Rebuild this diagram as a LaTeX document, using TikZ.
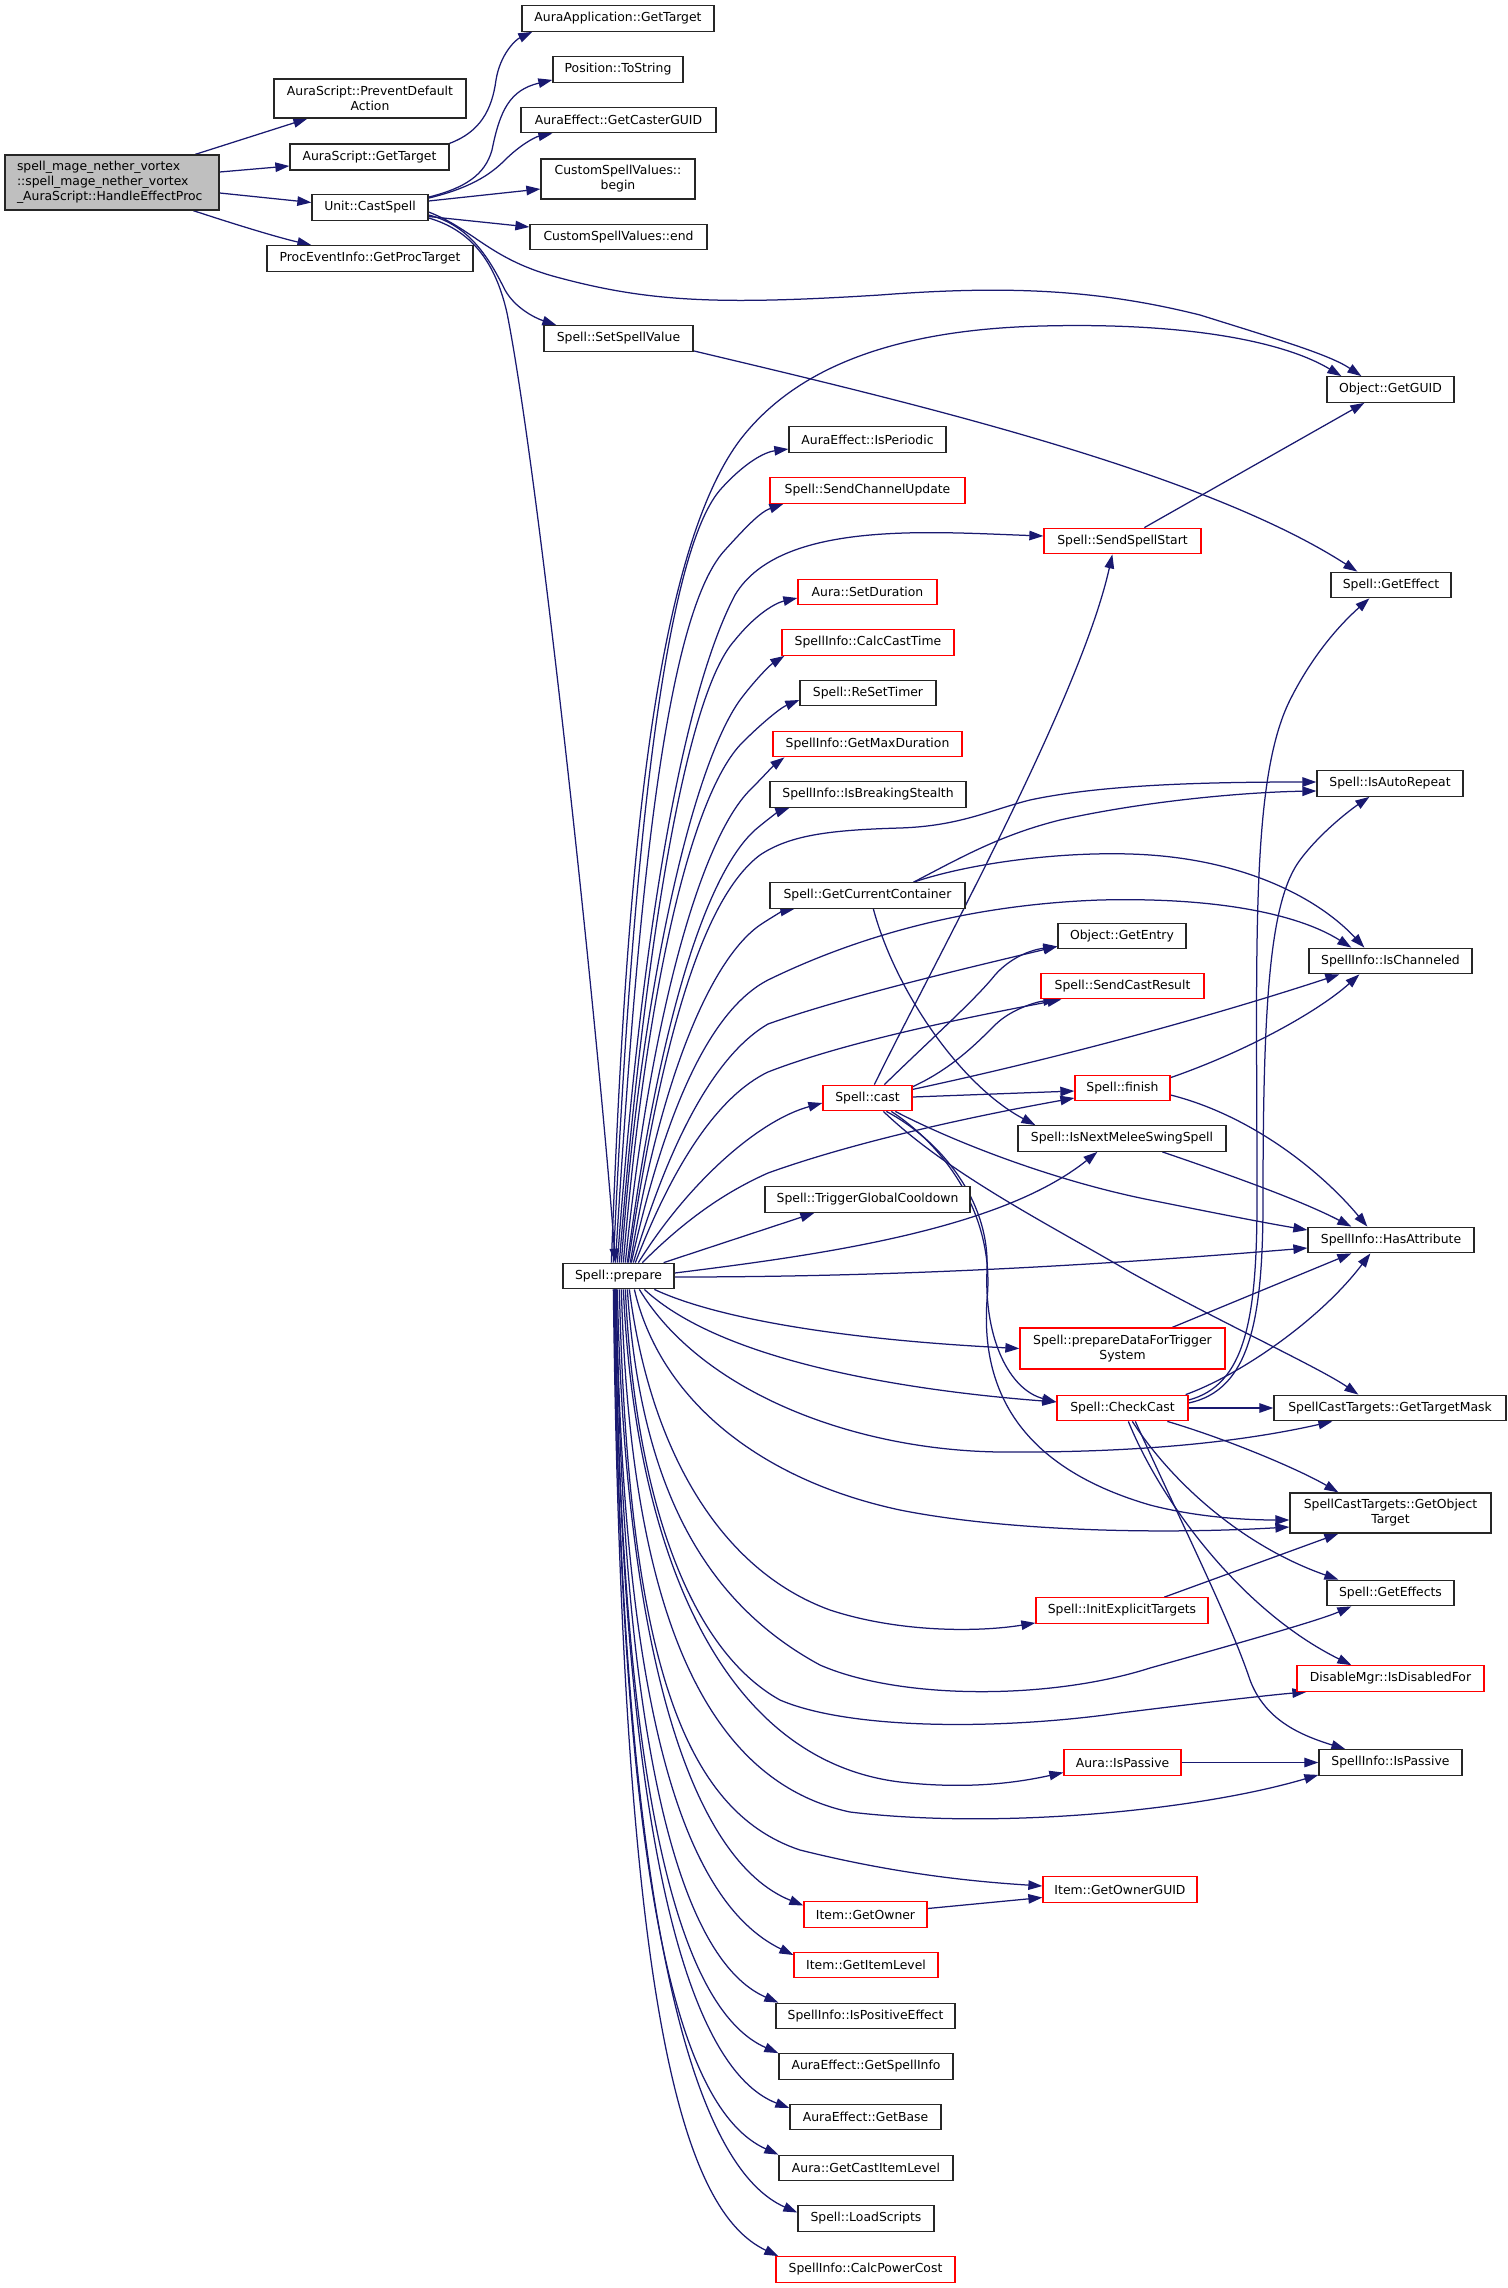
\documentclass[tikz,border=0pt]{standalone}
\usepackage{fontspec}
\setmainfont{DejaVu Sans}
\usetikzlibrary{arrows.meta,calc}
\definecolor{edgec}{HTML}{191970}
\definecolor{rootfill}{HTML}{BFBFBF}
\pgfdeclarelayer{back}
\pgfdeclarelayer{bg}
\pgfsetlayers{back,bg,main}
\begin{document}
\begin{tikzpicture}[x=1pt,y=-1pt,
  nb/.style={draw=black!85, line width=1.3pt, fill=white, inner sep=0pt, minimum height=25.5pt, font=\fontsize{12.4}{15}\selectfont, align=center},
  nr/.style={nb, draw=red},
  ed/.style={draw=edgec, line width=1.25pt, -{Triangle[length=14pt,width=9.5pt]}}]
\begin{pgfonlayer}{back}
\fill[white] (0,0) rectangle (1507,2288);
\end{pgfonlayer}
\useasboundingbox (0,0) rectangle (1507,2288);
% nodes
\node[nb, fill=rootfill, minimum width=214pt, minimum height=55pt, text width=190pt, align=left] (root) at (112,182.5) {spell\_mage\_nether\_vortex\\::spell\_mage\_nether\_vortex\\\_AuraScript::HandleEffectProc};
\node[nb, minimum width=192pt, minimum height=39pt] (prev) at (370,98.5) {AuraScript::PreventDefault\\Action};
\node[nb, minimum width=159pt, minimum height=26pt] (gt) at (369.5,157) {AuraScript::GetTarget};
\node[nb, minimum width=116pt] (cs) at (370,207.5) {Unit::CastSpell};
\node[nb, minimum width=206pt] (proc) at (370,258.5) {ProcEventInfo::GetProcTarget};
\node[nb, minimum width=192pt] (aapp) at (618,18.5) {AuraApplication::GetTarget};
\node[nb, minimum width=130pt] (tostr) at (618,69.5) {Position::ToString};
\node[nb, minimum width=195pt] (cguid) at (618.5,120) {AuraEffect::GetCasterGUID};
\node[nb, minimum width=154pt, minimum height=40pt] (cbeg) at (618,179) {CustomSpellValues::\\begin};
\node[nb, minimum width=177pt] (cend) at (618.5,237) {CustomSpellValues::end};
\node[nb, minimum width=149pt] (ssv) at (618.5,338.5) {Spell::SetSpellValue};
\node[nb, minimum width=127pt] (guid) at (1390.5,389.5) {Object::GetGUID};
\node[nb, minimum width=157pt] (iper) at (867.5,439.5) {AuraEffect::IsPeriodic};
\node[nr, minimum width=195pt] (scu) at (867.5,490.5) {Spell::SendChannelUpdate};
\node[nr, minimum width=157pt] (sss) at (1122.5,541) {Spell::SendSpellStart};
\node[nb, minimum width=120pt] (geff) at (1391,585) {Spell::GetEffect};
\node[nr, minimum width=139pt] (sdur) at (867.5,592) {Aura::SetDuration};
\node[nr, minimum width=172pt] (cct) at (868,642.5) {SpellInfo::CalcCastTime};
\node[nb, minimum width=136pt] (rst) at (868,693) {Spell::ReSetTimer};
\node[nr, minimum width=189pt] (gmd) at (867.5,744) {SpellInfo::GetMaxDuration};
\node[nb, minimum width=196pt] (ibs) at (868,794.5) {SpellInfo::IsBreakingStealth};
\node[nb, minimum width=146pt] (iar) at (1390,783.5) {Spell::IsAutoRepeat};
\node[nb, minimum width=195pt] (gcc) at (867.5,895.5) {Spell::GetCurrentContainer};
\node[nb, minimum width=128pt] (gent) at (1122,936) {Object::GetEntry};
\node[nb, minimum width=163pt] (ich) at (1390.5,961) {SpellInfo::IsChanneled};
\node[nr, minimum width=163pt] (scr) at (1122.5,986) {Spell::SendCastResult};
\node[nr, minimum width=89pt] (cast) at (867.5,1098) {Spell::cast};
\node[nr, minimum width=95pt] (fin) at (1122.5,1088) {Spell::finish};
\node[nb, minimum width=208pt] (inm) at (1122,1138.5) {Spell::IsNextMeleeSwingSpell};
\node[nb, minimum width=205pt] (tgc) at (867.5,1199.5) {Spell::TriggerGlobalCooldown};
\node[nb, minimum width=166pt] (hat) at (1391,1240) {SpellInfo::HasAttribute};
\node[nb, minimum width=111pt] (prep) at (618.5,1276) {Spell::prepare};
\node[nr, minimum width=205pt, minimum height=41pt] (pdt) at (1122.5,1348.5) {Spell::prepareDataForTrigger\\System};
\node[nr, minimum width=131pt] (cc) at (1122.5,1408) {Spell::CheckCast};
\node[nb, minimum width=232pt] (gtm) at (1390,1408) {SpellCastTargets::GetTargetMask};
\node[nb, minimum width=201pt, minimum height=40pt] (got) at (1390.5,1513) {SpellCastTargets::GetObject\\Target};
\node[nb, minimum width=127pt] (gefs) at (1390.5,1593) {Spell::GetEffects};
\node[nr, minimum width=172pt] (iet) at (1122,1610.5) {Spell::InitExplicitTargets};
\node[nr, minimum width=187pt] (dis) at (1390.5,1678.5) {DisableMgr::IsDisabledFor};
\node[nr, minimum width=117pt] (aip) at (1122.5,1762.5) {Aura::IsPassive};
\node[nb, minimum width=143pt] (sip) at (1390.5,1762.5) {SpellInfo::IsPassive};
\node[nr, minimum width=154pt] (gog) at (1120,1889.5) {Item::GetOwnerGUID};
\node[nr, minimum width=123pt] (gow) at (865.5,1914.5) {Item::GetOwner};
\node[nr, minimum width=144pt] (gil) at (866,1965) {Item::GetItemLevel};
\node[nb, minimum width=179pt] (ipe) at (865.5,2016) {SpellInfo::IsPositiveEffect};
\node[nb, minimum width=174pt] (gsi) at (866,2066.5) {AuraEffect::GetSpellInfo};
\node[nb, minimum width=151pt] (gb) at (865.5,2117) {AuraEffect::GetBase};
\node[nb, minimum width=174pt] (gcil) at (866,2168) {Aura::GetCastItemLevel};
\node[nb, minimum width=136pt] (ls) at (866,2218.5) {Spell::LoadScripts};
\node[nr, minimum width=179pt] (cpc) at (865.5,2269.5) {SpellInfo::CalcPowerCost};
% edges
\begin{pgfonlayer}{bg}
\draw[ed] ($(root.north west)+(191,0)$) -- ($(prev.south west)+(34,0)$);
\draw[ed] ($(root.east)+(0,-10.5)$) -- ($(gt.west)+(0,9)$);
\draw[ed] ($(root.east)+(0,10.5)$) -- ($(cs.west)+(0,-5)$);
\draw[ed] ($(root.south west)+(189,0)$) .. controls (240,226) and (280,238) .. ($(proc.north west)+(45,0)$);
\draw[ed] (gt.north east) .. controls (480,132) and (492,110) .. (496,80) .. controls (500,55) and (515,40) .. ($(aapp.south west)+(11,0)$);
\draw[ed] ($(cs.north east)+(0,3)$) .. controls (465,188) and (485,175) .. (492,150) .. controls (500,110) and (510,90) .. ($(tostr.south west)+(0,-3)$);
\draw[ed] ($(cs.north east)+(0,4)$) .. controls (470,188) and (490,175) .. (505,160) .. controls (520,145) and (535,137) .. ($(cguid.south west)+(32,0)$);
\draw[ed] ($(cs.east)+(0,-6.5)$) -- ($(cbeg.west)+(0,10)$);
\draw[ed] ($(cs.east)+(0,9)$) -- ($(cend.west)+(0,-10)$);
\draw[ed] ($(cs.east)+(0,4.5)$) .. controls (475,230) and (490,260) .. (560,278) .. controls (650,302) and (720,305) .. (880,295) .. controls (1010,285) and (1100,290) .. (1200,315) .. controls (1280,340) and (1330,355) .. ($(guid.north west)+(35,0)$);
\draw[ed] ($(cs.east)+(0,7.5)$) .. controls (470,225) and (490,260) .. (505,290) .. controls (515,308) and (535,318) .. ($(ssv.north west)+(13,0)$);
\draw[ed] ($(cs.east)+(0,10.5)$) .. controls (470,230) and (495,260) .. (507,313) .. controls (540,480) and (600,1050) .. ($(prep.north west)+(53,0)$);
\draw[ed] ($(ssv.south east)+(0,-1)$) .. controls (900,400) and (1200,470) .. ($(geff.north west)+(27,0)$);
% prepare upward
\draw[ed] ($(prep.north west)+(49,0)$) .. controls (625,900) and (650,560) .. (740,440) .. controls (790,375) and (880,330) .. (1042,326) .. controls (1200,322) and (1290,345) .. ($(guid.north west)+(15,0)$);
\draw[ed] ($(prep.north west)+(51,0)$) .. controls (630,900) and (660,560) .. (720,490) .. controls (745,462) and (765,452) .. ($(iper.west)+(0,9.5)$);
\draw[ed] ($(prep.north west)+(53,0)$) .. controls (635,950) and (660,620) .. (725,550) .. controls (745,528) and (760,512) .. ($(scu.south west)+(14,0)$);
\draw[ed] ($(prep.north west)+(55,0)$) .. controls (640,950) and (680,700) .. (735,595) .. controls (780,520) and (930,532) .. ($(sss.west)+(0,-5)$);
\draw[ed] ($(prep.north west)+(57,0)$) .. controls (640,1000) and (680,700) .. (735,640) .. controls (755,615) and (775,603) .. ($(sdur.west)+(0,6)$);
\draw[ed] ($(prep.north west)+(59,0)$) .. controls (640,1000) and (690,770) .. (740,700) .. controls (755,680) and (770,665) .. ($(cct.south west)+(3,0)$);
\draw[ed] ($(prep.north west)+(61,0)$) .. controls (645,1000) and (690,790) .. (745,740) .. controls (760,725) and (780,708) .. ($(rst.west)+(0,7)$);
\draw[ed] ($(prep.north west)+(63,0)$) .. controls (650,1020) and (700,840) .. (750,790) .. controls (762,778) and (773,766) .. ($(gmd.south west)+(12,0)$);
\draw[ed] ($(prep.north west)+(65,0)$) .. controls (655,1050) and (700,880) .. (755,830) .. controls (768,819) and (778,812) .. ($(ibs.south west)+(20,0)$);
\draw[ed] ($(prep.north west)+(66,0)$) .. controls (660,1050) and (700,900) .. (760,855) .. controls (790,835) and (830,830) .. (900,828) .. controls (960,826) and (990,810) .. (1030,800) .. controls (1100,785) and (1200,782) .. ($(iar.west)+(0,-1.5)$);
\draw[ed] ($(prep.north west)+(68,0)$) .. controls (660,1080) and (710,960) .. (760,925) .. controls (772,917) and (783,911) .. ($(gcc.south west)+(25,0)$);
\draw[ed] ($(prep.north west)+(69,0)$) .. controls (665,1110) and (710,1010) .. (768,980) .. controls (850,940) and (960,905) .. (1100,900) .. controls (1220,897) and (1300,915) .. ($(ich.north west)+(43,0)$);
\draw[ed] ($(prep.north west)+(71,0)$) .. controls (670,1140) and (715,1055) .. (768,1024) .. controls (850,995) and (980,965) .. ($(gent.south west)+(0,-3)$);
\draw[ed] ($(prep.north west)+(73,0)$) .. controls (675,1160) and (720,1095) .. (768,1072) .. controls (850,1040) and (980,1015) .. ($(scr.south west)+(21,0)$);
\draw[ed] ($(prep.north west)+(76,0)$) .. controls (690,1180) and (760,1120) .. ($(cast.west)+(0,5)$);
\draw[ed] ($(prep.north west)+(80,0)$) .. controls (690,1215) and (730,1190) .. (768,1173) .. controls (860,1140) and (980,1115) .. ($(fin.west)+(0,10)$);
\draw[ed] ($(prep.north east)+(-11,0)$) -- ($(tgc.south west)+(50,0)$);
\draw[ed] ($(prep.east)+(0,-3)$) .. controls (820,1255) and (1000,1230) .. ($(inm.south west)+(80,0)$);
\draw[ed] ($(prep.east)+(0,1)$) .. controls (900,1277) and (1100,1265) .. ($(hat.west)+(0,8)$);
% prepare downward
\draw[ed] ($(prep.south west)+(92,0)$) .. controls (720,1320) and (850,1340) .. (pdt.west);
\draw[ed] ($(prep.south west)+(82,0)$) .. controls (720,1360) and (900,1390) .. ($(cc.west)+(0,-6)$);
\draw[ed] ($(prep.south west)+(77,0)$) .. controls (700,1390) and (850,1450) .. (1000,1452) .. controls (1150,1453) and (1250,1440) .. ($(gtm.south west)+(59,0)$);
\draw[ed] ($(prep.south west)+(72,0)$) .. controls (660,1400) and (760,1480) .. (900,1510) .. controls (1000,1530) and (1150,1535) .. ($(got.west)+(0,14)$);
\draw[ed] ($(prep.south west)+(67,0)$) .. controls (650,1450) and (720,1570) .. (830,1610) .. controls (900,1633) and (980,1632) .. ($(iet.south west)+(0,-1)$);
\draw[ed] ($(prep.south west)+(65,0)$) .. controls (640,1480) and (700,1600) .. (820,1665) .. controls (900,1700) and (1050,1700) .. (1150,1668) .. controls (1250,1640) and (1320,1620) .. ($(gefs.south west)+(25,0)$);
\draw[ed] ($(prep.south west)+(63,0)$) .. controls (635,1500) and (690,1650) .. (780,1700) .. controls (850,1730) and (1000,1730) .. (1120,1713) .. controls (1200,1703) and (1270,1695) .. ($(dis.south west)+(10,0)$);
\draw[ed] ($(prep.south west)+(61,0)$) .. controls (635,1550) and (720,1760) .. (900,1782) .. controls (970,1790) and (1020,1782) .. ($(aip.west)+(0,10)$);
\draw[ed] ($(prep.south west)+(59,0)$) .. controls (630,1600) and (700,1780) .. (850,1812) .. controls (1000,1830) and (1200,1810) .. ($(sip.south west)+(0,-1)$);
\draw[ed] ($(prep.south west)+(57,0)$) .. controls (628,1650) and (680,1810) .. (800,1850) .. controls (900,1875) and (980,1882) .. ($(gog.west)+(0,-3.5)$);
\draw[ed] ($(prep.south west)+(55,0)$) .. controls (625,1650) and (690,1860) .. ($(gow.west)+(0,-9)$);
\draw[ed] ($(prep.south west)+(54,0)$) .. controls (622,1700) and (680,1900) .. ($(gil.west)+(0,-10)$);
\draw[ed] ($(prep.south west)+(54,0)$) .. controls (621,1750) and (680,1960) .. ($(ipe.north west)+(3,0)$);
\draw[ed] ($(prep.south west)+(53,0)$) .. controls (620,1800) and (680,2010) .. (gsi.north west);
\draw[ed] ($(prep.south west)+(53,0)$) .. controls (620,1850) and (690,2070) .. ($(gb.west)+(0,-9)$);
\draw[ed] ($(prep.south west)+(52,0)$) .. controls (620,1900) and (680,2110) .. (gcil.north west);
\draw[ed] ($(prep.south west)+(52,0)$) .. controls (620,1950) and (700,2170) .. ($(ls.west)+(0,-6)$);
\draw[ed] ($(prep.south west)+(51,0)$) .. controls (622,2000) and (680,2210) .. ($(cpc.north west)+(3,0)$);
% GetCurrentContainer
\draw[ed] ($(gcc.north east)+(-52,0)$) .. controls (960,858) and (1000,835) .. (1060,820) .. controls (1150,800) and (1250,792) .. ($(iar.west)+(0,7.5)$);
\draw[ed] ($(gcc.north east)+(-52,0)$) .. controls (980,860) and (1080,850) .. (1150,855) .. controls (1250,862) and (1320,900) .. ($(ich.north west)+(56,0)$);
\draw[ed] ($(gcc.south west)+(104,0)$) .. controls (895,990) and (960,1085) .. ($(inm.north west)+(18,0)$);
% SendSpellStart
\draw[ed] ($(sss.north west)+(101,0)$) -- ($(guid.south west)+(38,0)$);
% cast
\draw[ed] ($(cast.north west)+(52,0)$) .. controls (930,970) and (1080,700) .. ($(sss.south west)+(69,0)$);
\draw[ed] ($(cast.north west)+(62,0)$) .. controls (930,1040) and (975,1000) .. (995,975) .. controls (1010,958) and (1030,950) .. ($(gent.south west)+(0,-3)$);
\draw[ed] ($(cast.north east)+(-2,3)$) .. controls (950,1070) and (975,1045) .. (995,1025) .. controls (1010,1010) and (1035,1002) .. ($(scr.south west)+(17,0)$);
\draw[ed] ($(cast.north east)+(-1,5)$) .. controls (1050,1060) and (1200,1020) .. ($(ich.south west)+(31,0)$);
\draw[ed] ($(cast.east)+(0,-1)$) -- ($(fin.west)+(0,3)$);
\draw[ed] ($(cast.south west)+(73,0)$) .. controls (950,1140) and (1050,1180) .. (1150,1200) .. controls (1210,1212) and (1260,1222) .. ($(hat.west)+(0,-10)$);
\draw[ed] ($(cast.south west)+(64,0)$) .. controls (940,1140) and (990,1200) .. (987,1270) .. controls (984,1340) and (1010,1390) .. ($(cc.west)+(0,-6)$);
\draw[ed] ($(cast.south west)+(69,0)$) .. controls (950,1150) and (995,1220) .. (987,1300) .. controls (980,1400) and (1030,1470) .. (1150,1505) .. controls (1200,1518) and (1250,1520) .. ($(got.west)+(0,7)$);
\draw[ed] ($(cast.south west)+(61,0)$) .. controls (950,1175) and (1050,1225) .. (1130,1272) .. controls (1220,1322) and (1320,1368) .. ($(gtm.north west)+(85,0)$);
% finish, IsNextMelee, prepareData
\draw[ed] ($(fin.north east)+(0,3)$) .. controls (1250,1050) and (1320,1010) .. ($(ich.south west)+(51,0)$);
\draw[ed] ($(fin.east)+(0,7)$) .. controls (1250,1115) and (1320,1170) .. ($(hat.north west)+(60,0)$);
\draw[ed] ($(inm.south west)+(145,0)$) .. controls (1230,1175) and (1300,1200) .. ($(hat.north west)+(44,0)$);
\draw[ed] ($(pdt.north west)+(153,0)$) -- ($(hat.south west)+(44,0)$);
% CheckCast
\draw[ed] ($(cc.north east)+(-3,0)$) .. controls (1240,1375) and (1320,1320) .. ($(hat.south west)+(63,0)$);
\draw[ed] ($(cc.east)+(0,-8)$) .. controls (1245,1385) and (1257,1320) .. (1257,1200) .. controls (1257,950) and (1250,780) .. (1290,700) .. controls (1315,650) and (1345,620) .. ($(geff.south west)+(39,0)$);
\draw[ed] ($(cc.east)+(0,-5)$) .. controls (1250,1390) and (1263,1320) .. (1263,1200) .. controls (1263,1000) and (1270,900) .. (1300,860) .. controls (1320,833) and (1350,810) .. ($(iar.south west)+(53,0)$);
\draw[ed] (cc.east) -- (gtm.west);
\draw[ed] ($(cc.south west)+(111,0)$) .. controls (1230,1440) and (1300,1470) .. ($(got.north west)+(49,0)$);
\draw[ed] ($(cc.south west)+(76,0)$) .. controls (1170,1480) and (1240,1545) .. ($(gefs.north west)+(12,0)$);
\draw[ed] ($(cc.south west)+(72,0)$) .. controls (1160,1500) and (1240,1610) .. ($(dis.north west)+(55,0)$);
\draw[ed] ($(cc.south west)+(79,0)$) .. controls (1180,1520) and (1230,1620) .. (1250,1680) .. controls (1265,1720) and (1300,1735) .. ($(sip.north west)+(27,0)$);
% others
\draw[ed] ($(iet.north west)+(129,0)$) -- ($(got.south west)+(49,0)$);
\draw[ed] (aip.east) -- (sip.west);
\draw[ed] ($(gow.east)+(0,-6)$) -- ($(gog.west)+(0,8)$);
\end{pgfonlayer}
\end{tikzpicture}
\end{document}
